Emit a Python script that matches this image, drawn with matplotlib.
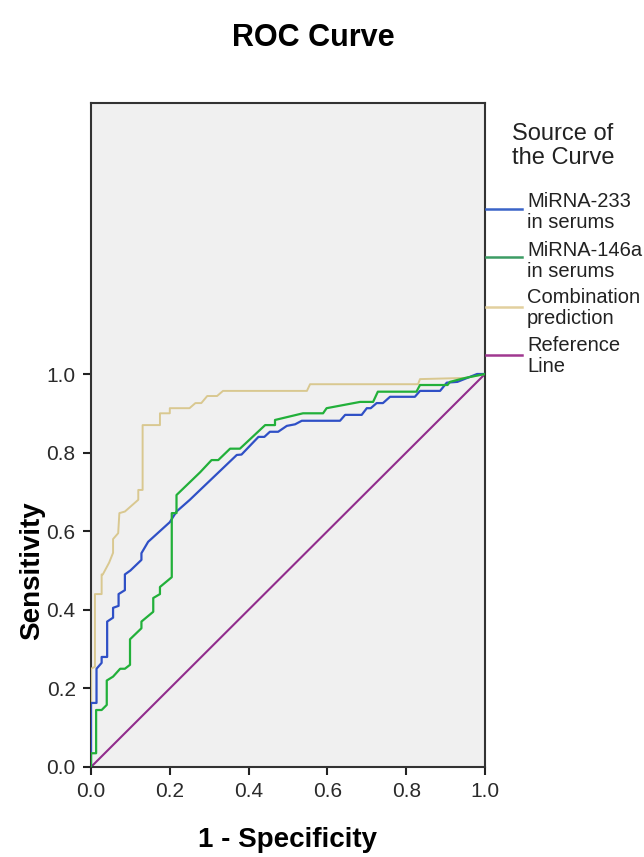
import matplotlib
matplotlib.use("Agg")
import matplotlib.pyplot as plt
from matplotlib.lines import Line2D

plt.rcParams["font.family"] = ["Liberation Sans", "DejaVu Sans"]

# ROC vertices (1 - specificity, sensitivity)
mirna233_fpr = [0.0, 0.0, 0.014, 0.014, 0.027, 0.027, 0.041, 0.041, 0.056, 0.056,
                0.07, 0.07, 0.086, 0.086, 0.1, 0.128, 0.128, 0.145, 0.2, 0.217,
                0.251, 0.277, 0.37, 0.382, 0.425, 0.44, 0.454, 0.475, 0.497, 0.518,
                0.535, 0.632, 0.645, 0.687, 0.7, 0.71, 0.725, 0.741, 0.759, 0.822,
                0.835, 0.886, 0.903, 0.93, 0.98, 1.0]
mirna233_tpr = [0.0, 0.163, 0.163, 0.25, 0.265, 0.28, 0.28, 0.37, 0.38, 0.405,
                0.41, 0.44, 0.45, 0.49, 0.5, 0.527, 0.544, 0.573, 0.623, 0.65,
                0.68, 0.705, 0.794, 0.795, 0.84, 0.84, 0.853, 0.853, 0.868, 0.872,
                0.881, 0.881, 0.896, 0.896, 0.913, 0.913, 0.926, 0.926, 0.942, 0.942,
                0.957, 0.957, 0.978, 0.98, 1.0, 1.0]

mirna146a_fpr = [0.0, 0.0, 0.013, 0.013, 0.027, 0.04, 0.04, 0.056, 0.074, 0.086,
                 0.099, 0.099, 0.128, 0.128, 0.158, 0.158, 0.175, 0.175, 0.205, 0.205,
                 0.217, 0.217, 0.277, 0.306, 0.323, 0.353, 0.378, 0.442, 0.467, 0.467,
                 0.538, 0.589, 0.598, 0.683, 0.716, 0.728, 0.826, 0.835, 0.905, 0.911,
                 0.95, 1.0]
mirna146a_tpr = [0.0, 0.035, 0.035, 0.145, 0.145, 0.158, 0.22, 0.23, 0.25, 0.25,
                 0.26, 0.325, 0.353, 0.37, 0.395, 0.43, 0.44, 0.458, 0.483, 0.646,
                 0.646, 0.692, 0.75, 0.781, 0.781, 0.81, 0.81, 0.87, 0.87, 0.883,
                 0.9, 0.9, 0.913, 0.929, 0.929, 0.955, 0.955, 0.972, 0.972, 0.98,
                 0.99, 1.0]

combo_fpr = [0.0, 0.0, 0.01, 0.01, 0.027, 0.027, 0.03, 0.046, 0.056, 0.056,
             0.069, 0.072, 0.086, 0.12, 0.12, 0.131, 0.131, 0.175, 0.175, 0.2,
             0.2, 0.25, 0.265, 0.28, 0.295, 0.32, 0.335, 0.548, 0.556, 0.83,
             0.835, 0.95, 1.0]
combo_tpr = [0.0, 0.25, 0.255, 0.44, 0.44, 0.49, 0.49, 0.52, 0.545, 0.58,
             0.595, 0.646, 0.65, 0.68, 0.705, 0.705, 0.87, 0.87, 0.90, 0.90,
             0.913, 0.913, 0.926, 0.926, 0.944, 0.944, 0.957, 0.957, 0.974, 0.974,
             0.987, 0.99, 1.0]

ref_x = [0.0, 1.0]
ref_y = [0.0, 1.0]

series_labels = ["MiRNA-233\nin serums", "MiRNA-146a\nin serums",
                 "Combination\nprediction", "Reference\nLine"]
series_colors = ["#2f50c6", "#22b03a", "#d9c890", "#912c8c"]
legend_colors = ["#3a64c8", "#3c9c64", "#e2d09e", "#a03890"]
tick_vals = [0.0, 0.2, 0.4, 0.6, 0.8, 1.0]

W, H = 644, 857
fig = plt.figure(figsize=(W / 100, H / 100), dpi=100)
fig.patch.set_facecolor("white")

ax_l, ax_r, ax_t, ax_b = 91, 485, 103, 767
ax = fig.add_axes([ax_l / W, 1 - ax_b / H, (ax_r - ax_l) / W, (ax_b - ax_t) / H])
ax.set_facecolor("#f0f0f0")

ymax = (ax_b - ax_t) / 393.0
ax.set_xlim(0, 1)
ax.set_ylim(0, ymax)

ax.plot(ref_x, ref_y, color=series_colors[3], lw=1.5, zorder=2)
ax.plot(combo_fpr, combo_tpr, color=series_colors[2], lw=1.4, zorder=3)
ax.plot(mirna233_fpr, mirna233_tpr, color=series_colors[0], lw=1.6, zorder=4)
ax.plot(mirna146a_fpr, mirna146a_tpr, color=series_colors[1], lw=1.6, zorder=5)

ax.set_xticks(tick_vals)
ax.set_yticks(tick_vals)
ax.set_xticklabels([f"{v:.1f}" for v in tick_vals])
ax.set_yticklabels([f"{v:.1f}" for v in tick_vals])
ax.tick_params(direction="out", length=6, width=1.5, color="#222222",
               labelsize=15, labelcolor="#2a2a2a", pad=5)

for s in ax.spines.values():
    s.set_color("#333333")
    s.set_linewidth(1.5)

ax.set_xlabel("1 - Specificity", fontsize=20, fontweight="bold")
ax.xaxis.set_label_coords(0.5, -0.09)
ax.set_ylabel("Sensitivity", fontsize=20, fontweight="bold")
ax.yaxis.set_label_coords(-0.117, 0.5 / ymax)

fig.text(313 / W, 1 - 46 / H, "ROC Curve", fontsize=22, fontweight="bold",
         ha="center", va="baseline")

# legend drawn beside the plot, SPSS style (baseline = last line of each label)
fig.text(512 / W, 1 - 164 / H, "Source of\nthe Curve", fontsize=17,
         ha="left", va="baseline", linespacing=1.09, color="#222222")
line_ys = [209, 257, 307, 355]
text_ys = [228, 277, 324, 372]
for lab, col, ly, ty in zip(series_labels, legend_colors, line_ys, text_ys):
    fig.add_artist(Line2D([486 / W, 522 / W], [1 - ly / H, 1 - ly / H],
                          color=col, lw=1.8))
    fig.text(527 / W, 1 - ty / H, lab, fontsize=14.5, ha="left", va="baseline",
             linespacing=1.12, color="#222222")

fig.savefig("out.png", dpi=100)
